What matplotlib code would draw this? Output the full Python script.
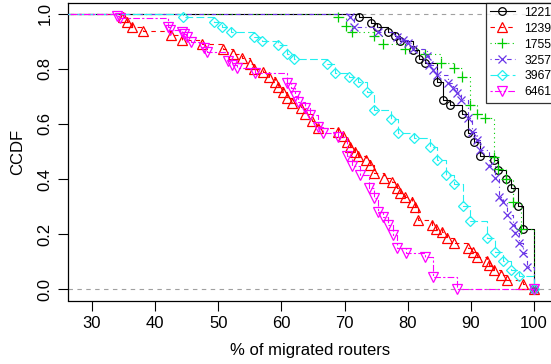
import matplotlib
matplotlib.use("Agg")
import matplotlib.pyplot as plt

plt.rcParams['font.family'] = ['Liberation Sans', 'DejaVu Sans']

# ---- data (x = % of migrated routers, y = CCDF) ----
labels = ["1221", "1239", "1755", "3257", "3967", "6461"]

x_1221 = [0, 72.3, 74.2, 75.2, 76.9, 78.0, 78.8, 80.9, 81.8, 82.8, 84.7, 85.6, 86.7, 88.6,
          89.6, 90.5, 91.5, 93.6, 94.3, 95.5, 96.4, 97.4, 98.3, 100]
y_1221 = [1.0, 0.987, 0.966, 0.951, 0.933, 0.918, 0.900, 0.868, 0.835, 0.820, 0.751, 0.686,
          0.668, 0.635, 0.566, 0.534, 0.483, 0.468, 0.432, 0.399, 0.367, 0.301, 0.218, 0.0]

x_1239 = [0, 34.9, 35.6, 36.3, 38.1, 42.5, 44.3, 47.4, 50.8, 52.4, 53.8, 55.0, 55.7, 57.1,
          58.1, 59.0, 59.5, 60.3, 60.9, 61.7, 63.1, 63.8, 64.9, 65.8, 69.0, 69.8, 70.4, 70.9,
          71.7, 72.2, 73.4, 74.1, 74.7, 76.3, 77.5, 78.3, 78.8, 79.5, 80.7, 81.2, 81.7, 83.9,
          84.5, 85.5, 86.3, 87.4, 89.6, 90.4, 91.0, 92.6, 92.9, 93.6, 94.8, 95.8, 98.3, 100]
y_1239 = [1.0, 0.987, 0.969, 0.951, 0.936, 0.922, 0.904, 0.889, 0.871, 0.853, 0.838, 0.817,
          0.799, 0.788, 0.770, 0.751, 0.733, 0.715, 0.693, 0.675, 0.657, 0.635, 0.610, 0.584,
          0.570, 0.555, 0.534, 0.515, 0.497, 0.483, 0.468, 0.450, 0.421, 0.403, 0.388, 0.367,
          0.348, 0.334, 0.316, 0.298, 0.250, 0.232, 0.218, 0.207, 0.185, 0.167, 0.149, 0.134,
          0.116, 0.102, 0.087, 0.069, 0.054, 0.036, 0.018, 0.0]

x_1755 = [0, 69.0, 70.3, 71.1, 74.7, 76.1, 79.5, 82.8, 85.3, 87.4, 88.6, 89.9, 91.0, 92.3,
          93.6, 94.3, 95.5, 96.7, 98.0, 100]
y_1755 = [1.0, 0.987, 0.955, 0.933, 0.918, 0.889, 0.871, 0.853, 0.820, 0.802, 0.770, 0.668,
          0.635, 0.621, 0.479, 0.436, 0.399, 0.316, 0.218, 0.0]

x_3257 = [0, 70.9, 71.5, 75.3, 78.3, 79.3, 80.1, 80.9, 83.1, 83.4, 84.0, 84.7, 86.4, 87.2,
          87.8, 88.5, 89.6, 90.2, 91.0, 91.5, 92.8, 93.9, 94.5, 95.1, 95.8, 96.6, 97.0, 97.7,
          98.3, 98.9, 100]
y_3257 = [1.0, 0.987, 0.951, 0.933, 0.915, 0.904, 0.893, 0.871, 0.846, 0.813, 0.795, 0.777,
          0.748, 0.730, 0.711, 0.686, 0.621, 0.570, 0.541, 0.505, 0.446, 0.403, 0.334, 0.316,
          0.269, 0.232, 0.203, 0.167, 0.131, 0.083, 0.0]

x_3967 = [0, 44.4, 49.3, 50.6, 52.0, 55.7, 56.9, 59.5, 60.9, 62.0, 67.2, 68.5, 70.7, 72.2,
          73.6, 74.7, 77.4, 78.5, 81.0, 83.6, 84.7, 86.1, 87.4, 88.8, 89.9, 92.6, 93.9, 95.1,
          96.4, 97.7, 100]
y_3967 = [1.0, 0.987, 0.969, 0.951, 0.933, 0.915, 0.900, 0.886, 0.853, 0.835, 0.817, 0.784,
          0.770, 0.751, 0.715, 0.650, 0.617, 0.566, 0.548, 0.515, 0.468, 0.414, 0.381, 0.301,
          0.247, 0.185, 0.134, 0.102, 0.069, 0.047, 0.0]

x_6461 = [0, 34.0, 34.4, 42.0, 42.4, 44.3, 44.6, 45.1, 45.7, 47.8, 48.2, 51.6, 52.2, 53.0,
          55.8, 60.9, 61.5, 62.2, 62.7, 63.8, 64.6, 65.8, 66.6, 69.0, 70.4, 71.2, 72.5, 73.9,
          74.7, 75.3, 76.1, 76.9, 77.7, 78.3, 79.8, 82.8, 84.0, 87.8, 100]
y_6461 = [1.0, 0.991, 0.984, 0.951, 0.940, 0.933, 0.926, 0.915, 0.897, 0.875, 0.860, 0.828,
          0.813, 0.802, 0.784, 0.748, 0.730, 0.701, 0.679, 0.657, 0.632, 0.588, 0.566, 0.552,
          0.483, 0.446, 0.414, 0.367, 0.330, 0.279, 0.261, 0.232, 0.196, 0.149, 0.131, 0.116,
          0.044, 0.0, 0.0]

xs = [x_1221, x_1239, x_1755, x_3257, x_3967, x_6461]
ys = [y_1221, y_1239, y_1755, y_3257, y_3967, y_6461]

colors = ["black", "#FF0000", "#00CD00", "#6A35E8", "#22F0F0", "#FF00FF"]
markers = ["o", "^", "+", "x", "D", "v"]
msizes = [5.5, 6.5, 7, 6, 4.8, 6.5]
dashes = [None, (4, 4), (1, 3), (1, 3, 4, 3), (7, 3), (2, 2, 6, 2)]

fig = plt.figure(figsize=(5.51, 3.64), dpi=100)
ax = fig.add_axes([68 / 551, 1 - 300.5 / 364, 484 / 551, (300.5 - 2.5) / 364])

ax.axhline(0, color="#A0A0A0", lw=0.8, dashes=(4, 4), zorder=1)
ax.axhline(1, color="#A0A0A0", lw=0.8, dashes=(4, 4), zorder=1)

handles = []
for x, y, c, m, ms, d, lab in zip(xs, ys, colors, markers, msizes, dashes, labels):
    kw = dict(color=c, lw=0.8, drawstyle="steps-post", marker=m, markersize=ms,
              markerfacecolor="none", markeredgecolor=c, markeredgewidth=0.9,
              label=lab, zorder=3)
    if d is not None:
        kw["dashes"] = d
    h, = ax.plot(x, y, **kw)
    handles.append(h)

ax.set_xlim(26.2, 102.85)
ax.set_ylim(-0.04, 1.04)
ax.set_xticks([30, 40, 50, 60, 70, 80, 90, 100])
ax.set_yticks([0.0, 0.2, 0.4, 0.6, 0.8, 1.0])
ax.set_yticklabels(["0.0", "0.2", "0.4", "0.6", "0.8", "1.0"], rotation=90, va="center")
ax.tick_params(direction="out", length=7, width=0.8, labelsize=12, pad=4)
for s in ax.spines.values():
    s.set_linewidth(0.9)
    s.set_color("black")

ax.set_xlabel("% of migrated routers", fontsize=12, labelpad=9)
ax.set_ylabel("CCDF", fontsize=12, labelpad=9)

leg = ax.legend(handles=handles, loc="upper left", bbox_to_anchor=(0.8636, 1.0),
                borderaxespad=0, frameon=True, fancybox=False, edgecolor="black",
                fontsize=8.8, handlelength=2.0, handletextpad=0.8, labelspacing=0.32,
                borderpad=0.35)
leg.get_frame().set_linewidth(0.9)
leg.set_clip_on(False)

fig.savefig("out.png", dpi=100)
